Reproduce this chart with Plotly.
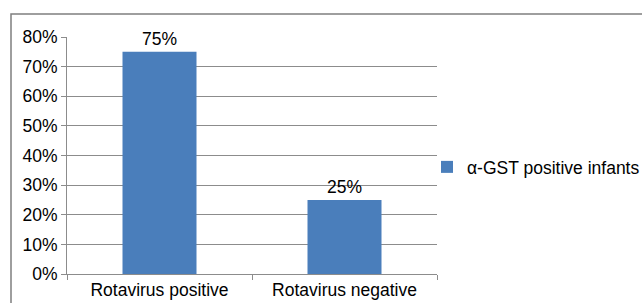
import plotly.graph_objects as go

categories = ["Rotavirus positive", "Rotavirus negative"]
values = [0.75, 0.25]
labels = ["75%", "25%"]
series_name = "α-GST positive infants"
tick_vals = [0, 0.1, 0.2, 0.3, 0.4, 0.5, 0.6, 0.7, 0.8]
tick_text = ["0%", "10%", "20%", "30%", "40%", "50%", "60%", "70%", "80%"]

W, H = 642, 303
L, R, T, B = 67, 205, 37, 29
pw = W - L - R
ph = H - T - B

def px_x(x):
    return (x - L) / pw

def px_y(y):
    return (H - B - y) / ph

font = dict(family="Liberation Sans, Arial, sans-serif", size=17.5, color="#000000")
gray = "#8c8c8c"

fig = go.Figure()
fig.add_trace(go.Bar(
    x=categories, y=values, name=series_name,
    marker=dict(color="#4a7ebb", line=dict(width=0)),
    width=0.4,
    text=labels, textposition="outside", cliponaxis=False,
    textfont=font,
    showlegend=True,
))

fig.update_layout(
    width=W, height=H,
    margin=dict(l=L, r=R, t=T, b=B, pad=0, autoexpand=False),
    paper_bgcolor="white", plot_bgcolor="white",
    font=font,
    showlegend=True,
    legend=dict(xref="container", yref="container",
                x=427 / W, y=(H - 167) / H, xanchor="left", yanchor="middle",
                font=font, itemwidth=30, bgcolor="rgba(0,0,0,0)"),
    xaxis=dict(type="category", showgrid=False, showline=True, linecolor=gray, linewidth=1,
               ticks="outside", tickson="boundaries", ticklen=5, tickcolor=gray,
               tickfont=font, automargin=False),
    yaxis=dict(range=[0, 0.8], tickvals=tick_vals, ticktext=tick_text,
               showgrid=True, gridcolor=gray, gridwidth=1,
               showline=True, linecolor=gray, linewidth=1,
               ticks="outside", ticklen=5, tickcolor=gray, tickfont=font,
               zeroline=False, automargin=False),
    shapes=[dict(type="rect", xref="paper", yref="paper",
                 x0=px_x(11), x1=px_x(660), y0=px_y(320), y1=px_y(14),
                 line=dict(color="#7f7f7f", width=1.5), fillcolor="rgba(0,0,0,0)", layer="below")],
)

fig.write_html("out.html",
               config={"displayModeBar": False},
               post_script="document.body.style.margin='0';document.body.style.overflow='hidden';")
